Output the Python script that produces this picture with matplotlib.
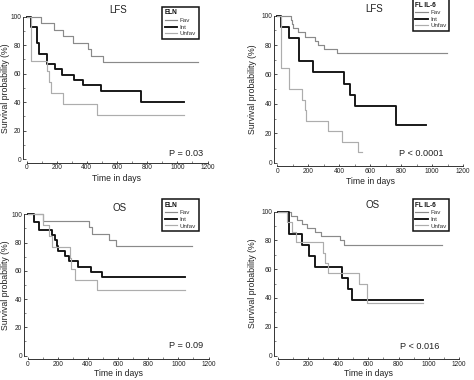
import matplotlib
matplotlib.use("Agg")
import matplotlib.pyplot as plt
from matplotlib.ticker import MultipleLocator

plt.rcParams['font.family'] = ['Liberation Sans', 'DejaVu Sans']

W, H = 474, 380

# ---------------- data (time in days, survival %) ----------------
# Top-left: LFS by ELN
tl_fav_t = [0, 96, 185, 244, 306, 410, 425, 509, 1140]
tl_fav_s = [100, 95.5, 90.9, 86.4, 81.8, 77.3, 72.7, 68.2, 68.2]
tl_int_t = [0, 30, 72, 83, 134, 189, 233, 315, 377, 494, 759, 1045]
tl_int_s = [100, 92.6, 81.5, 74.1, 66.7, 63.0, 59.3, 55.6, 51.9, 48.1, 40.1, 40.1]
tl_unf_t = [0, 30, 134, 151, 162, 244, 465, 1045]
tl_unf_s = [100, 69.2, 61.5, 53.8, 46.2, 38.5, 30.8, 30.8]

# Top-right: LFS by FL IL-6
tr_fav_t = [0, 86, 95, 104, 136, 179, 244, 265, 304, 384, 1095]
tr_fav_s = [100, 97.1, 94.3, 91.4, 88.6, 85.7, 82.9, 80.0, 77.1, 74.3, 74.3]
tr_int_t = [0, 24, 76, 140, 233, 431, 470, 504, 770, 960]
tr_int_s = [100, 92.3, 84.6, 69.2, 61.5, 53.8, 46.2, 38.5, 25.6, 25.6]
tr_unf_t = [0, 24, 76, 162, 176, 183, 330, 416, 524, 545]
tr_unf_s = [100, 64.3, 50.0, 42.9, 35.7, 28.6, 21.4, 14.3, 7.1, 7.1]

# Bottom-left: OS by ELN
bl_fav_t = [0, 105, 408, 425, 543, 587, 1089]
bl_fav_s = [100, 95.5, 90.9, 86.4, 81.8, 77.3, 77.3]
bl_int_t = [0, 45, 76, 160, 185, 193, 200, 249, 275, 337, 421, 492, 1045]
bl_int_s = [100, 94.4, 88.9, 85.2, 81.5, 77.8, 74.1, 70.4, 66.7, 63.0, 59.3, 55.6, 55.6]
bl_unf_t = [0, 105, 145, 160, 282, 288, 315, 463, 1045]
bl_unf_s = [100, 92.3, 84.6, 76.9, 69.2, 61.5, 53.8, 46.2, 46.2]

# Bottom-right: OS by FL IL-6
br_fav_t = [0, 87, 128, 160, 192, 250, 290, 410, 437, 1088]
br_fav_s = [100, 97.1, 94.3, 91.4, 88.6, 85.7, 82.9, 80.0, 77.1, 77.1]
br_int_t = [0, 76, 164, 210, 248, 429, 464, 495, 963]
br_int_s = [100, 84.6, 76.9, 69.2, 61.5, 53.8, 46.2, 38.5, 38.5]
br_unf_t = [0, 65, 95, 124, 303, 317, 336, 541, 590, 965]
br_unf_s = [100, 92.9, 85.7, 78.6, 71.4, 64.3, 57.1, 50.0, 36.5, 36.5]

groups = ['Fav', 'Int', 'Unfav']
titles = ['LFS', 'LFS', 'OS', 'OS']
legend_titles = ['ELN', 'FL IL-6', 'ELN', 'FL IL-6']
pvalues = ['P = 0.03', 'P < 0.0001', 'P = 0.09', 'P < 0.016']
x_ticks = [0, 200, 400, 600, 800, 1000, 1200]
y_ticks = [0, 20, 40, 60, 80, 100]

panels = [
    (tl_fav_t, tl_fav_s, tl_int_t, tl_int_s, tl_unf_t, tl_unf_s),
    (tr_fav_t, tr_fav_s, tr_int_t, tr_int_s, tr_unf_t, tr_unf_s),
    (bl_fav_t, bl_fav_s, bl_int_t, bl_int_s, bl_unf_t, bl_unf_s),
    (br_fav_t, br_fav_s, br_int_t, br_int_s, br_unf_t, br_unf_s),
]

# ---------------- layout (pixel geometry) ----------------
# (x of 0 days, x of 1200 days, y of 100 %, y of 0 %)
geom = [
    (26.5, 207.5, 16.7, 159.0),
    (277.3, 463.0, 15.7, 162.7),
    (27.5, 208.5, 214.3, 355.5),
    (277.5, 459.0, 211.7, 355.5),
]
title_pos = [(607, 104.7), (623, 104.4), (609, 104.3), (631, 104.6)]
p_pos = [(1170, 3.9), (1071, 6.1), (1164, 7.4), (1068, 6.6)]
legend_corner = [(162.3, 7.0), (412.7, -1.0), (162.3, 199.3), (412.7, 199.3)]
ylabel_x = [5.5, 252.5, 5.5, 252.5]        # pixel x of y-label centre
xlabel_y = [178.5, 181.0, 373.0, 373.0]    # pixel y of x-label centre

styles = {
    'Fav': dict(color='#8a8a8a', lw=0.85),
    'Int': dict(color='#111111', lw=1.35),
    'Unfav': dict(color='#adadad', lw=0.85),
}

fig = plt.figure(figsize=(W / 100, H / 100), dpi=100)

for i, (g, data) in enumerate(zip(geom, panels)):
    x0, x1, y100, y0 = g
    ax = fig.add_axes([x0 / W, 1 - y0 / H, (x1 - x0) / W, (y0 - y100) / H])
    ax.set_xlim(0, 1200)
    ax.set_ylim(0, 100)
    for name, (t, s) in zip(groups, [(data[0], data[1]), (data[2], data[3]), (data[4], data[5])]):
        ax.step(t, s, where='post', label=name, clip_on=False, zorder=3, **styles[name])
    for sp in ['top', 'right']:
        ax.spines[sp].set_visible(False)
    ax.spines['left'].set_position(('outward', 2.6))
    ax.spines['bottom'].set_position(('outward', 2.6))
    ax.spines['left'].set_bounds(0, 100)
    ax.spines['bottom'].set_bounds(0, 1200)
    for sp in ['left', 'bottom']:
        ax.spines[sp].set_linewidth(0.7)
        ax.spines[sp].set_color('#333333')
    ax.set_xticks(x_ticks)
    ax.set_yticks(y_ticks)
    ax.xaxis.set_minor_locator(MultipleLocator(100))
    ax.yaxis.set_minor_locator(MultipleLocator(10))
    ax.tick_params(which='major', direction='in', length=1.8, width=0.6, pad=1.2,
                   labelsize=4.8, colors='#333333', labelcolor='#222222')
    ax.tick_params(which='minor', direction='in', length=1.1, width=0.5, colors='#555555')
    ax.set_xlabel('Time in days', fontsize=6.2, color='#222222', va='center')
    ax.set_ylabel('Survival probability (%)', fontsize=6.3, color='#222222', va='center')
    ax.xaxis.set_label_coords(0.5, (y0 - xlabel_y[i]) / (y0 - y100))
    ax.yaxis.set_label_coords((ylabel_x[i] - x0) / (x1 - x0), 0.5)
    ax.text(title_pos[i][0], title_pos[i][1], titles[i], ha='center', va='center',
            fontsize=7, color='#222222', clip_on=False)
    ax.text(p_pos[i][0], p_pos[i][1], pvalues[i], ha='right', va='center',
            fontsize=6.6, color='#222222')
    lx, ly = legend_corner[i]
    leg = ax.legend(loc='upper left', bbox_to_anchor=(lx / W, 1 - ly / H),
                    bbox_transform=fig.transFigure, borderaxespad=0,
                    title=legend_titles[i], alignment='left',
                    title_fontproperties={'weight': 'bold', 'size': 4.7},
                    fontsize=4.5, handlelength=2.0, handletextpad=0.4,
                    labelspacing=0.2, borderpad=0.4, fancybox=False,
                    framealpha=1, edgecolor='#111111')
    leg.get_frame().set_linewidth(1.1)
    leg.get_title().set_color('#111111')
    for txt in leg.get_texts():
        txt.set_color('#333333')

fig.savefig('out.png', dpi=100)
